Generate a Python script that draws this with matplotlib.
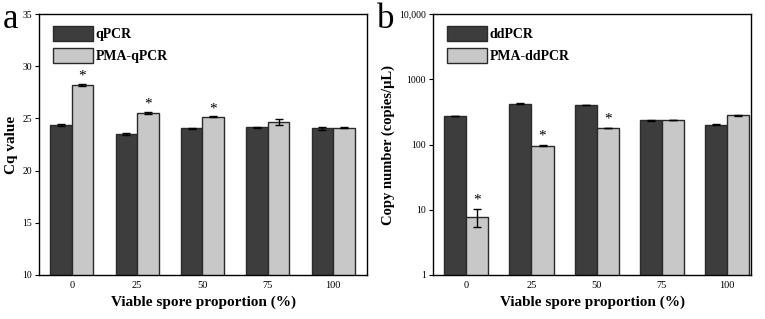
import numpy as np
import matplotlib
matplotlib.use('Agg')
import matplotlib.pyplot as plt

plt.rcParams['font.family'] = ['Liberation Serif', 'DejaVu Serif']

proportions = ['0', '25', '50', '75', '100']

# panel a: Cq values
qpcr = [24.33, 23.50, 24.04, 24.17, 24.04]
qpcr_err = [0.10, 0.08, 0.05, 0.05, 0.12]
pma_qpcr = [28.19, 25.51, 25.15, 24.65, 24.12]
pma_qpcr_err = [0.10, 0.10, 0.05, 0.25, 0.04]
sig_a = [True, True, True, False, False]

# panel b: copy numbers
ddpcr = [272, 423, 402, 234, 201]
ddpcr_err = [3, 4, 4, 3, 3]
pma_ddpcr = [7.8, 96, 178, 237, 279]
pma_ddpcr_err = [2.4, 2, 2, 3, 3]
sig_b = [True, True, True, False, False]

dark = '#3d3d3d'
light = '#c8c8c8'
edge = '#2a2a2a'

fig = plt.figure(figsize=(7.65, 3.19), dpi=100)
ax1 = fig.add_axes([0.051, 0.138, 0.429, 0.818])
ax2 = fig.add_axes([0.566, 0.138, 0.416, 0.818])

x = np.arange(len(proportions))


def draw(ax, a, aerr, b, berr, sig, names, w, logy):
    ek = dict(ecolor='black', elinewidth=1, capsize=3, capthick=1)
    ax.bar(x - w / 2, a, w, yerr=aerr, color=dark, edgecolor=edge,
           linewidth=1, label=names[0], error_kw=ek)
    ax.bar(x + w / 2, b, w, yerr=berr, color=light, edgecolor=edge,
           linewidth=1, label=names[1], error_kw=ek)
    for i in range(len(x)):
        if sig[i]:
            top = b[i] + berr[i]
            if logy:
                ax.text(x[i] + w / 2, top * 1.08, '*', ha='center', va='bottom', fontsize=11)
            else:
                ax.text(x[i] + w / 2, top + 0.1, '*', ha='center', va='bottom', fontsize=11)
    ax.set_xticks(x)
    ax.set_xticklabels(proportions)
    ax.tick_params(axis='x', length=0, labelsize=7.5, pad=4)
    ax.tick_params(axis='y', direction='out', length=3, labelsize=7, pad=2, which='major')
    ax.tick_params(axis='y', which='minor', length=0)
    for s in ax.spines.values():
        s.set_linewidth(1)
    ax.set_xlabel('Viable spore proportion (%)', fontsize=11, fontweight='bold', labelpad=4)
    ax.legend(loc='upper left', frameon=False, prop={'weight': 'bold', 'size': 10},
              handlelength=2.9, handleheight=1.3, labelspacing=0.45,
              handletextpad=0.2, borderaxespad=0.0, bbox_to_anchor=(0.025, 0.975))


draw(ax1, qpcr, qpcr_err, pma_qpcr, pma_qpcr_err, sig_a, ['qPCR', 'PMA-qPCR'], 0.33, False)
ax1.set_xlim(-0.5, 4.52)
ax1.set_ylim(10, 35)
ax1.set_yticks([10, 15, 20, 25, 30, 35])
ax1.set_ylabel('Cq value', fontsize=11, fontweight='bold', labelpad=3)

draw(ax2, ddpcr, ddpcr_err, pma_ddpcr, pma_ddpcr_err, sig_b, ['ddPCR', 'PMA-ddPCR'], 0.34, True)
ax2.set_yscale('log')
ax2.set_xlim(-0.51, 4.37)
ax2.set_ylim(1, 10000)
ax2.set_yticks([1, 10, 100, 1000, 10000])
ax2.set_yticklabels(['1', '10', '100', '1000', '10,000'])
ax2.set_ylabel('Copy number (copies/\u03bcL)', fontsize=10.5, fontweight='bold', labelpad=3)

fig.text(0.004, 0.912, 'a', fontsize=25, va='baseline')
fig.text(0.493, 0.912, 'b', fontsize=25, va='baseline')

fig.savefig('out.png', dpi=100)
